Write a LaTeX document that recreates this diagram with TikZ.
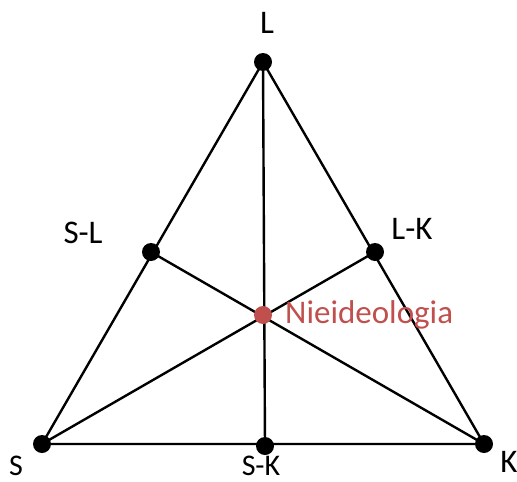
\documentclass[tikz,border=0pt]{standalone}
\usepackage{fontspec}
\setmainfont{Carlito}
\definecolor{redpt}{RGB}{192,80,77}
\begin{document}
\begin{tikzpicture}[x=1pt,y=-1pt,
  dot/.style={circle,fill=black,inner sep=0pt,minimum size=18pt},
  rdot/.style={circle,fill=redpt,inner sep=0pt,minimum size=18pt},
  lbl/.style={font=\fontsize{33}{38}\selectfont,inner sep=0pt,anchor=base,text depth=0pt},
  lowlbl/.style={lbl,font=\fontsize{30}{35}\selectfont},
  edge/.style={line width=2.4pt}]
\useasboundingbox (0,0) rectangle (517,482);
\coordinate (L) at (263,62);
\coordinate (S) at (42,444);
\coordinate (K) at (484,444);
\coordinate (SL) at (151,252);
\coordinate (LK) at (375,252);
\coordinate (SK) at (265,446);
\coordinate (C) at (263,315);
\draw[edge] (L) -- (S) -- (K) -- cycle;
\draw[edge] (L) -- (SK);
\draw[edge] (S) -- (LK);
\draw[edge] (K) -- (SL);
\node[dot] (nL) at (L) {};
\node[dot] (nS) at (S) {};
\node[dot] (nK) at (K) {};
\node[dot] (nSL) at (SL) {};
\node[dot] (nLK) at (LK) {};
\node[dot] (nSK) at (SK) {};
\node[rdot] (nC) at (C) {};
\node[lbl] (tL) at (267,33) {L};
\node[lbl] (tSL) at (83,243) {S-L};
\node[lbl] (tLK) at (412,239) {L-K};
\node[lowlbl] (tS) at (16,475) {S};
\node[lowlbl] (tSK) at (261,475) {S-K};
\node[lbl] (tK) at (509,472) {K};
\node[lbl,anchor=base west,text=redpt] (tC) at (285,323) {Nieideologia};
\end{tikzpicture}
\end{document}
